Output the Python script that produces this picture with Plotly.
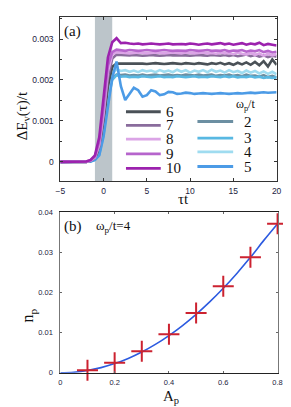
import plotly.graph_objects as go

# ---------------- panel (a) data ----------------
tau = [-5, -2.5, -2, -1.5, -1, -0.5, 0, 0.5, 1, 1.5, 2,
       2.5, 3, 3.5, 4, 4.5, 5, 5.5, 6, 6.5, 7, 7.5, 8,
       8.5, 9, 9.5, 10, 10.5, 11, 11.5, 12, 12.5, 13, 13.5, 14,
       14.5, 15, 15.5, 16, 16.5, 17, 17.5, 18, 18.5, 19, 19.5, 20]

dE_w6 = [0, 0, 0, 0.00002, 0.00008, 0.00030, 0.00095, 0.00185, 0.00232, 0.00240, 0.00240,
         0.00241, 0.00240, 0.00240, 0.00241, 0.00240, 0.00239,
         0.00240, 0.00241, 0.00240, 0.00239, 0.00240, 0.00241,
         0.00240, 0.00239, 0.00241, 0.00240, 0.00239, 0.00241,
         0.00240, 0.00238, 0.00241, 0.00239, 0.00242, 0.00238,
         0.00241, 0.00237, 0.00242, 0.00238, 0.00243, 0.00237,
         0.00244, 0.00236, 0.00246, 0.00233, 0.00250, 0.00237]
dE_w7 = [0, 0, 0, 0.00003, 0.00010, 0.00038, 0.00110, 0.00205, 0.00252, 0.00262, 0.00261,
         0.00261, 0.00260, 0.00261, 0.00260, 0.00259, 0.00260,
         0.00261, 0.00260, 0.00259, 0.00260, 0.00261, 0.00260,
         0.00260, 0.00261, 0.00260, 0.00259, 0.00260, 0.00261,
         0.00260, 0.00259, 0.00261, 0.00260, 0.00259, 0.00261,
         0.00259, 0.00261, 0.00258, 0.00260, 0.00262, 0.00258,
         0.00261, 0.00257, 0.00260, 0.00256, 0.00259, 0.00257]
dE_w8 = [0, 0, 0, 0.00003, 0.00011, 0.00042, 0.00120, 0.00220, 0.00262, 0.00268, 0.00267,
         0.00267, 0.00265, 0.00266, 0.00267, 0.00266, 0.00265,
         0.00266, 0.00267, 0.00266, 0.00265, 0.00266, 0.00267,
         0.00266, 0.00265, 0.00267, 0.00266, 0.00265, 0.00266,
         0.00267, 0.00265, 0.00266, 0.00264, 0.00267, 0.00265,
         0.00266, 0.00263, 0.00267, 0.00264, 0.00262, 0.00266,
         0.00261, 0.00265, 0.00259, 0.00264, 0.00260, 0.00263]
dE_w9 = [0, 0, 0.00001, 0.00004, 0.00013, 0.00050, 0.00135, 0.00235, 0.00268, 0.00274, 0.00273,
         0.00271, 0.00273, 0.00272, 0.00271, 0.00272, 0.00273,
         0.00272, 0.00271, 0.00272, 0.00273, 0.00272, 0.00271,
         0.00272, 0.00272, 0.00271, 0.00273, 0.00272, 0.00271,
         0.00272, 0.00273, 0.00271, 0.00272, 0.00271, 0.00273,
         0.00270, 0.00272, 0.00271, 0.00273, 0.00269, 0.00272,
         0.00270, 0.00273, 0.00268, 0.00271, 0.00267, 0.00269]
dE_w10 = [0, 0, 0.00001, 0.00005, 0.00016, 0.00060, 0.00150, 0.00255, 0.00292, 0.00302, 0.00290,
          0.00291, 0.00289, 0.00288, 0.00289, 0.00287, 0.00288,
          0.00289, 0.00288, 0.00287, 0.00288, 0.00289, 0.00287,
          0.00288, 0.00288, 0.00287, 0.00289, 0.00288, 0.00286,
          0.00288, 0.00289, 0.00287, 0.00288, 0.00290, 0.00287,
          0.00289, 0.00286, 0.00288, 0.00290, 0.00286, 0.00289,
          0.00287, 0.00291, 0.00285, 0.00288, 0.00286, 0.00284]
dE_w2 = [0, 0, 0, 0.00002, 0.00006, 0.00022, 0.00075, 0.00160, 0.00205, 0.00213, 0.00212,
         0.00213, 0.00211, 0.00212, 0.00211, 0.00213, 0.00211,
         0.00212, 0.00213, 0.00211, 0.00212, 0.00213, 0.00211,
         0.00212, 0.00211, 0.00213, 0.00212, 0.00211, 0.00213,
         0.00211, 0.00212, 0.00213, 0.00210, 0.00212, 0.00211,
         0.00213, 0.00210, 0.00212, 0.00209, 0.00213, 0.00210,
         0.00211, 0.00208, 0.00212, 0.00207, 0.00210, 0.00206]
dE_w3 = [0, 0, 0, 0.00001, 0.00005, 0.00018, 0.00068, 0.00150, 0.00200, 0.00212, 0.00208,
         0.00209, 0.00207, 0.00208, 0.00207, 0.00209, 0.00208,
         0.00207, 0.00208, 0.00209, 0.00207, 0.00208, 0.00207,
         0.00209, 0.00208, 0.00207, 0.00208, 0.00209, 0.00207,
         0.00208, 0.00207, 0.00209, 0.00208, 0.00207, 0.00209,
         0.00207, 0.00209, 0.00206, 0.00208, 0.00207, 0.00209,
         0.00206, 0.00208, 0.00205, 0.00207, 0.00205, 0.00207]
dE_w4 = [0, 0, 0, 0.00002, 0.00007, 0.00025, 0.00085, 0.00170, 0.00215, 0.00226, 0.00222,
         0.00224, 0.00220, 0.00223, 0.00219, 0.00224, 0.00221,
         0.00223, 0.00219, 0.00224, 0.00220, 0.00223, 0.00219,
         0.00225, 0.00220, 0.00224, 0.00218, 0.00223, 0.00220,
         0.00224, 0.00219, 0.00225, 0.00220, 0.00223, 0.00218,
         0.00224, 0.00219, 0.00222, 0.00217, 0.00223, 0.00218,
         0.00222, 0.00216, 0.00221, 0.00215, 0.00220, 0.00214]
dE_w5 = [0, 0, 0, 0.00001, 0.00005, 0.00016, 0.00062, 0.00140, 0.00205, 0.00245, 0.00185,
         0.00151, 0.00165, 0.00181, 0.00175, 0.00159, 0.00163,
         0.00175, 0.00172, 0.00163, 0.00165, 0.00171, 0.00170,
         0.00166, 0.00167, 0.00169, 0.00168, 0.00166, 0.00167,
         0.00168, 0.00167, 0.00166, 0.00167, 0.00168, 0.00167,
         0.00166, 0.00167, 0.00168, 0.00167, 0.00168, 0.00169,
         0.00168, 0.00169, 0.00170, 0.00169, 0.00170, 0.00170]

pulse_window = [-1, 1]
y_ticks_a = [0, 0.001, 0.002, 0.003]
y_ticktext_a = ["0", "0.001", "0.002", "0.003"]
x_ticks_a = [-5, 0, 5, 10, 15, 20]

# ---------------- panel (b) data ----------------
A_p_curve = [0, 0.05, 0.1, 0.15, 0.2, 0.25, 0.3, 0.35, 0.4, 0.45,
             0.5, 0.55, 0.6, 0.65, 0.7, 0.75, 0.8]
n_p_curve = [0, 0.00015, 0.00058, 0.0013, 0.0023, 0.0036, 0.0052, 0.0071, 0.0093, 0.0118,
             0.0146, 0.0177, 0.0211, 0.0248, 0.0288, 0.0331, 0.0372]
A_p_points = [0.1, 0.2, 0.3, 0.4, 0.5, 0.6, 0.7, 0.8]
n_p_points = [0.00065, 0.0025, 0.0054, 0.0096, 0.0149, 0.0216, 0.0288, 0.0372]
y_ticks_b = [0, 0.01, 0.02, 0.03, 0.04]
y_ticktext_b = ["0", "0.01", "0.02", "0.03", "0.04"]
x_ticks_b = [0, 0.2, 0.4, 0.6, 0.8]
x_ticktext_b = ["0", "0.2", "0.4", "0.6", "0.8"]

W, H = 291, 407
def px(x): return x / W
def py(y): return 1 - y / H

series_a = [
    ("2", dE_w2, "#6c8fa2"),
    ("3", dE_w3, "#58b8e2"),
    ("4", dE_w4, "#9fdcf0"),
    ("6", dE_w6, "#4a5157"),
    ("5", dE_w5, "#4c9be6"),
    ("7", dE_w7, "#8a6c9c"),
    ("8", dE_w8, "#dba4e6"),
    ("9", dE_w9, "#b664cc"),
    ("10", dE_w10, "#9c22ae"),
]
colors = {name: c for name, _, c in series_a}

fig = go.Figure()
for name, vals, col in series_a:
    fig.add_trace(go.Scatter(x=tau, y=vals, mode="lines", name=name,
                             line=dict(color=col, width=2.6),
                             xaxis="x", yaxis="y", showlegend=False))

fig.add_trace(go.Scatter(x=A_p_curve, y=n_p_curve, mode="lines",
                         line=dict(color="#2d5be0", width=1.6, shape="spline"),
                         xaxis="x2", yaxis="y2", showlegend=False))
fig.add_trace(go.Scatter(x=A_p_points, y=n_p_points, mode="markers",
                         marker=dict(symbol="cross-thin", size=15,
                                     line=dict(color="#cc2230", width=2)),
                         xaxis="x2", yaxis="y2", showlegend=False, cliponaxis=False))

tickfont = dict(family="Liberation Sans", size=8.5, color="#1c1c40")
serif = "Liberation Serif"

fig.update_layout(
    width=W, height=H, margin=dict(l=0, r=0, t=0, b=0),
    paper_bgcolor="white", plot_bgcolor="white",
    xaxis=dict(domain=[px(49), px(273)], anchor="y", range=[-5, 20],
               tickvals=x_ticks_a, ticks="inside", ticklen=3, tickcolor="#333",
               showline=True, linecolor="#333", linewidth=1, mirror="ticks",
               showgrid=False, zeroline=False, tickfont=tickfont,
               ticklabelstandoff=2),
    yaxis=dict(domain=[py(173), py(5)], anchor="x", range=[-0.00047, 0.00354],
               tickvals=y_ticks_a, ticktext=y_ticktext_a, ticks="inside", ticklen=3,
               tickcolor="#333", showline=True, linecolor="#333", linewidth=1,
               mirror="ticks", showgrid=False, zeroline=False, tickfont=tickfont,
               minor=dict(dtick=0.0005, ticks="inside", ticklen=2, tickcolor="#333"),
               ticklabelstandoff=4),
    xaxis2=dict(domain=[px(49), px(274)], anchor="y2", range=[0, 0.8],
                tickvals=x_ticks_b, ticktext=x_ticktext_b, ticks="inside", ticklen=2,
                tickcolor="#666", showline=True, linecolor="#222", linewidth=1,
                mirror="ticks", showgrid=False, zeroline=False,
                tickfont=dict(family="Liberation Sans", size=7.5, color="#1c1c40"),
                ticklabelstandoff=2),
    yaxis2=dict(domain=[py(369), py(205)], anchor="x2", range=[0, 0.04],
                tickvals=y_ticks_b, ticktext=y_ticktext_b, ticks="inside", ticklen=2,
                tickcolor="#666", showline=True, linecolor="#777", linewidth=1,
                mirror="ticks", showgrid=False, zeroline=False,
                tickfont=dict(family="Liberation Sans", size=7.5, color="#1c1c40"),
                ticklabelstandoff=5),
)

# pulse window band
fig.add_shape(type="rect", xref="x", yref="y domain", x0=pulse_window[0], x1=pulse_window[1],
              y0=0, y1=1, fillcolor="#bcc5ca", line=dict(width=0), layer="below")

annotations = [
    dict(x=px(10), y=py(106), text="ΔE<sub>v</sub>(τ)/t", textangle=-90,
         font=dict(family=serif, size=15, color="#111")),
    dict(x=px(177), y=py(191), text="τt", font=dict(family=serif, size=15, color="#111")),
    dict(x=px(62), y=py(20), text="(a)", font=dict(family=serif, size=15, color="#111")),
    dict(x=px(62), y=py(219), text="(b)", font=dict(family=serif, size=15, color="#111")),
    dict(x=px(104), y=py(219), text="ω<sub>p</sub>/t=4",
         font=dict(family=serif, size=13, color="#111")),
    dict(x=px(16), y=py(310), text="n<sub>p</sub>", textangle=-90,
         font=dict(family=serif, size=16, color="#111")),
    dict(x=px(164), y=py(394), text="A<sub>p</sub>", font=dict(family=serif, size=15, color="#111")),
    dict(x=px(241), y=py(95), text="ω<sub>p</sub>/t", font=dict(family=serif, size=12, color="#111")),
]

# legend, left column
left_rows = [("6", 102), ("7", 116), ("8", 130), ("9", 145), ("10", 160)]
for name, yy in left_rows:
    fig.add_shape(type="line", xref="paper", yref="paper", x0=px(117), x1=px(153),
                  y0=py(yy), y1=py(yy), line=dict(color=colors[name], width=2.8))
    annotations.append(dict(x=px(156), y=py(yy), text=name, xanchor="left",
                            font=dict(family=serif, size=15, color="#111")))
right_rows = [("2", 112), ("3", 129), ("4", 143), ("5", 158)]
for name, yy in right_rows:
    fig.add_shape(type="line", xref="paper", yref="paper", x0=px(191), x1=px(228),
                  y0=py(yy), y1=py(yy), line=dict(color=colors[name], width=2.8))
    annotations.append(dict(x=px(243), y=py(yy), text=name, xanchor="center",
                            font=dict(family=serif, size=15, color="#111")))

for a in annotations:
    a.setdefault("xref", "paper")
    a.setdefault("yref", "paper")
    a.setdefault("showarrow", False)
    a.setdefault("xanchor", "center")
    a.setdefault("yanchor", "middle")
fig.update_layout(annotations=annotations)

fig.write_html("out.html")
